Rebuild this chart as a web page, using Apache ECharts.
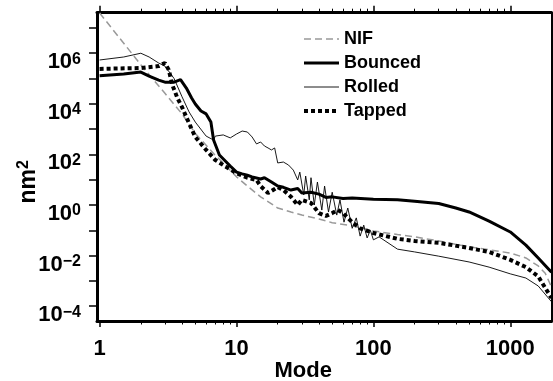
<!DOCTYPE html>
<html>
<head>
<meta charset="utf-8">
<script src="https://cdn.jsdelivr.net/npm/echarts@6/dist/echarts.min.js"></script>
<style>
  html, body { margin: 0; padding: 0; background: #fff; }
  #chart { width: 553px; height: 381px; }
</style>
</head>
<body>
<div id="chart"></div>
<script>
// data (mode number vs. amplitude in nm^2)
const nifModes = [1, 2, 3, 4, 5, 6, 7, 8, 10, 12, 15, 20, 25, 30, 40, 50, 70, 100, 150, 200, 300, 500, 700, 1000, 1300, 1600, 1800, 2000];
const nifValues = [3.9e7, 3.5e5, 2.6e4, 4.0e3, 680, 230, 92, 46, 13, 5.6, 2.1, 0.76, 0.53, 0.40, 0.28, 0.20, 0.15, 0.094, 0.068, 0.055, 0.038, 0.022, 0.017, 0.0126, 0.0081, 0.0039, 0.002, 5.7e-4];

const bouncedModes = [1, 1.5, 2, 2.3, 2.7, 3, 3.5, 3.9, 4.3, 4.7, 5, 5.5, 6, 6.5, 6.8, 7.5, 9, 10, 11, 12, 13, 15, 16, 18, 20, 22, 25, 28, 30, 35, 40, 45, 50, 60, 70, 100, 150, 200, 300, 400, 500, 700, 1000, 1300, 1600, 2000];
const bouncedValues = [1.3e5, 1.5e5, 1.8e5, 1.25e5, 8.7e4, 7.2e4, 7.2e4, 9.0e4, 4.2e4, 1.7e4, 9.8e3, 5.2e3, 4.0e3, 1.9e3, 370, 95, 35, 20, 17, 15, 13, 10.7, 12, 8.1, 5.6, 5.0, 3.9, 4.5, 3.0, 3.2, 2.7, 2.0, 2.1, 1.8, 1.9, 1.7, 1.6, 1.4, 1.15, 0.76, 0.53, 0.23, 0.086, 0.026, 0.0081, 0.0022];

const rolledModes = [1, 1.5, 2, 2.3, 2.7, 3, 3.5, 4, 4.5, 5, 6, 6.8, 7, 8, 9, 10, 11, 12, 13, 14, 15, 16, 17, 18, 19, 20, 22, 24, 26, 28, 29, 31, 32, 34, 35, 37, 39, 42, 44, 47, 50, 54, 57, 61, 65, 70, 75, 80, 85, 90, 95, 100, 110, 150, 200, 300, 500, 700, 1000, 1300, 1600, 2000];
const rolledValues = [5.4e5, 7.1e5, 1.0e6, 7.1e5, 4.1e5, 3.1e5, 1.0e5, 1.9e4, 4.8e3, 1.9e3, 530, 370, 530, 590, 450, 640, 840, 770, 490, 260, 310, 215, 180, 150, 180, 46, 50, 38, 24, 9.8, 20, 2.5, 14, 1.6, 12, 1.0, 8.1, 0.63, 5.6, 0.53, 3.2, 0.40, 1.6, 0.21, 0.76, 0.12, 0.31, 0.059, 0.16, 0.05, 0.10, 0.042, 0.055, 0.018, 0.014, 0.0095, 0.0056, 0.0035, 0.0019, 0.0013, 6.3e-4, 1.5e-4];

const tappedModes = [1, 2, 2.7, 3, 3.2, 3.4, 3.7, 4, 4.5, 5, 6, 7, 8, 10, 12, 14, 15, 17, 19, 20, 22, 25, 28, 30, 35, 40, 45, 50, 55, 60, 70, 80, 100, 150, 200, 300, 500, 700, 1000, 1300, 1600, 2000];
const tappedValues = [2.4e5, 2.6e5, 3.1e5, 4.1e5, 2.2e5, 5.5e4, 1.7e4, 7.4e3, 1.7e3, 490, 150, 60, 38, 18, 12, 9.8, 5.6, 3.0, 4.3, 5.1, 3.9, 2.1, 1.0, 1.6, 1.2, 0.48, 0.37, 0.48, 0.63, 0.48, 0.21, 0.12, 0.078, 0.046, 0.038, 0.032, 0.02, 0.014, 0.0068, 0.0035, 0.0015, 2.1e-4];

// tick positions
const xMajorTicks = [1, 10, 100, 1000];
const xMinorTicks = [2, 3, 4, 5, 6, 7, 8, 9, 20, 30, 40, 50, 60, 70, 80, 90, 200, 300, 400, 500, 600, 700, 800, 900];
const yTicks = [1e-4, 1e-3, 1e-2, 1e-1, 1, 1e1, 1e2, 1e3, 1e4, 1e5, 1e6, 1e7];
const yLabels = [1e-4, 1e-2, 1, 1e2, 1e4, 1e6];

const FONT = "'Liberation Sans', Arial, Helvetica, sans-serif";
const X_MIN = 0.957, X_MAX = 2000;
const Y_MIN = 2.6e-5, Y_MAX = 4e7;

const zip = (xs, ys) => xs.map((x, i) => [x, ys[i]]);

const chart = echarts.init(document.getElementById('chart'));

const xAxisBase = {
  type: 'log',
  min: X_MIN,
  max: X_MAX,
  splitLine: { show: false },
  minorTick: { show: false }
};

const styles = {
  NIF: { color: '#999', width: 1.5, type: [7, 4] },
  Bounced: { color: '#000', width: 3, type: 'solid' },
  Rolled: { color: '#000', width: 0.9, type: 'solid' },
  Tapped: { color: '#000', width: 4, type: [4, 3] }
};

const option = {
  animation: false,
  backgroundColor: '#fff',
  grid: { left: 97, right: 1.5, top: 12.7, bottom: 60, containLabel: false, outerBoundsMode: 'none' },
  legend: {
    left: 302,
    top: 30,
    orient: 'vertical',
    padding: 0,
    itemWidth: 35,
    itemHeight: 14,
    itemGap: 6,
    itemStyle: { opacity: 0 },
    textStyle: { fontFamily: FONT, fontSize: 18, fontWeight: 'bold', color: '#000' },
    data: Object.keys(styles).map((name) => ({ name, lineStyle: { ...styles[name] } }))
  },
  xAxis: [
    {
      ...xAxisBase,
      position: 'bottom',
      name: 'Mode',
      nameLocation: 'middle',
      nameGap: 39,
      nameMoveOverlap: false,
      nameTextStyle: { fontFamily: FONT, fontSize: 22, fontWeight: 'bold', color: '#000', padding: [0, 42, 0, 0] },
      axisLine: { show: true, lineStyle: { color: '#000', width: 3 } },
      axisTick: { show: true, length: 6, lineStyle: { color: '#000', width: 1.5 }, customValues: xMajorTicks },
      axisLabel: {
        show: true, margin: 17, customValues: xMajorTicks,
        fontFamily: FONT, fontSize: 22, fontWeight: 'bold', color: '#000',
        formatter: (v) => String(Math.round(v))
      }
    },
    {
      ...xAxisBase,
      position: 'bottom',
      axisLine: { show: false },
      axisTick: { show: true, length: 3.5, lineStyle: { color: '#000', width: 1 }, customValues: xMinorTicks },
      axisLabel: { show: false }
    },
    {
      ...xAxisBase,
      position: 'top',
      axisLine: { show: true, lineStyle: { color: '#000', width: 3 } },
      axisTick: { show: true, length: 7, lineStyle: { color: '#000', width: 1.5 }, customValues: xMajorTicks },
      axisLabel: { show: false }
    },
    {
      ...xAxisBase,
      position: 'top',
      axisLine: { show: false },
      axisTick: { show: true, length: 4, lineStyle: { color: '#000', width: 1 }, customValues: xMinorTicks },
      axisLabel: { show: false }
    }
  ],
  yAxis: [
    {
      type: 'log',
      min: Y_MIN,
      max: Y_MAX,
      position: 'left',
      name: '{a|nm}{s|2}',
      nameLocation: 'middle',
      nameRotate: 90,
      nameGap: 57,
      nameMoveOverlap: false,
      nameTextStyle: {
        padding: [0, 30, 0, 0],
        rich: {
          a: { fontFamily: FONT, fontSize: 23, fontWeight: 'bold', color: '#000', lineHeight: 24, verticalAlign: 'bottom', padding: [8, 0, 0, 0] },
          s: { fontFamily: FONT, fontSize: 16, fontWeight: 'bold', color: '#000', lineHeight: 16, verticalAlign: 'top' }
        }
      },
      splitLine: { show: false },
      minorTick: { show: false },
      axisLine: { show: true, lineStyle: { color: '#000', width: 3 } },
      axisTick: { show: true, length: 8, lineStyle: { color: '#000', width: 1.5 }, customValues: yTicks },
      axisLabel: {
        show: true, margin: 16, customValues: yLabels,
        padding: [18, 0, 0, 0],
        formatter: (v) => {
          const e = Math.round(Math.log10(v));
          return '{b|10}{s|' + String(e).replace('-', '\u2212') + '}';
        },
        rich: {
          b: { fontFamily: FONT, fontSize: 22, fontWeight: 'bold', color: '#000', lineHeight: 22, verticalAlign: 'bottom', padding: [6, 0, 0, 0] },
          s: { fontFamily: FONT, fontSize: 16, fontWeight: 'bold', color: '#000', lineHeight: 16, verticalAlign: 'top' }
        }
      }
    },
    {
      type: 'log',
      min: Y_MIN,
      max: Y_MAX,
      position: 'right',
      splitLine: { show: false },
      minorTick: { show: false },
      axisLine: { show: true, lineStyle: { color: '#000', width: 2 } },
      axisTick: { show: false },
      axisLabel: { show: false }
    }
  ],
  series: [
    { name: 'NIF', z: 2, data: zip(nifModes, nifValues) },
    { name: 'Bounced', z: 3, data: zip(bouncedModes, bouncedValues) },
    { name: 'Rolled', z: 3, data: zip(rolledModes, rolledValues) },
    { name: 'Tapped', z: 4, data: zip(tappedModes, tappedValues) }
  ].map((s) => ({
    ...s,
    type: 'line',
    symbol: 'none',
    lineStyle: { ...styles[s.name] },
    itemStyle: { color: styles[s.name].color }
  }))
};

chart.setOption(option);
</script>
</body>
</html>
